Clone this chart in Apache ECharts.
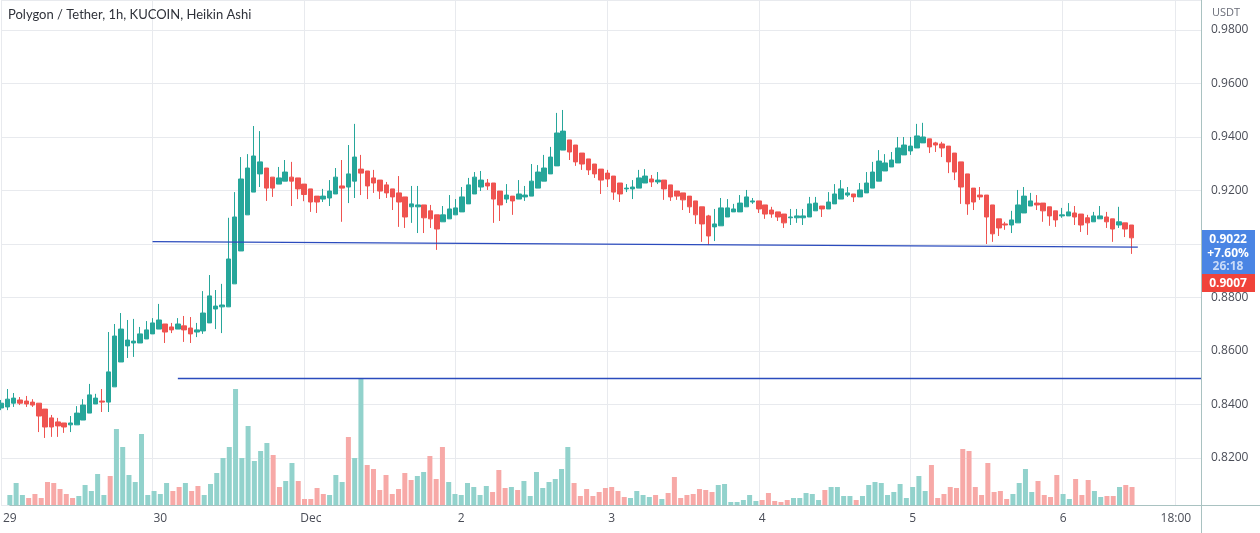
<!DOCTYPE html>
<html>
<head>
<meta charset="utf-8">
<title>Polygon / Tether, 1h, KUCOIN, Heikin Ashi</title>
<script src="https://cdn.jsdelivr.net/npm/echarts@6/dist/echarts.min.js"></script>
<style>
  html, body { margin: 0; padding: 0; background: #fff; }
  #main { width: 1260px; height: 533px; }
</style>
</head>
<body>
<div id="main"></div>
<script>
// hourly Heikin Ashi candles, Nov 29 00:00 -> Dec 6 11:00
var open = [
  0.8387, 0.8391, 0.8405, 0.8417, 0.8413, 0.8409, 0.8405, 0.8383, 0.8350, 0.8335,
  0.8331, 0.8324, 0.8324, 0.8342, 0.8368, 0.8402, 0.8413, 0.8409, 0.8466, 0.8559,
  0.8619, 0.8630, 0.8630, 0.8645, 0.8664, 0.8682, 0.8701, 0.8690, 0.8682, 0.8694,
  0.8686, 0.8671, 0.8675, 0.8705, 0.8757, 0.8765, 0.8765, 0.8851, 0.8974, 0.9109,
  0.9194, 0.9262, 0.9284, 0.9250, 0.9224, 0.9235, 0.9250, 0.9247, 0.9224, 0.9206,
  0.9179, 0.9168, 0.9172, 0.9187, 0.9217, 0.9213, 0.9235, 0.9280, 0.9273, 0.9247,
  0.9239, 0.9221, 0.9206, 0.9191, 0.9176, 0.9139, 0.9139, 0.9146, 0.9124, 0.9109,
  0.9083, 0.9094, 0.9109, 0.9120, 0.9150, 0.9187, 0.9213, 0.9228, 0.9228, 0.9198,
  0.9168, 0.9179, 0.9168, 0.9176, 0.9179, 0.9209, 0.9235, 0.9262, 0.9292, 0.9351,
  0.9389, 0.9370, 0.9340, 0.9318, 0.9299, 0.9280, 0.9265, 0.9254, 0.9228, 0.9206,
  0.9206, 0.9209, 0.9228, 0.9243, 0.9232, 0.9239, 0.9221, 0.9198, 0.9191, 0.9179,
  0.9161, 0.9139, 0.9105, 0.9064, 0.9068, 0.9101, 0.9120, 0.9120, 0.9139, 0.9157,
  0.9161, 0.9146, 0.9127, 0.9120, 0.9112, 0.9098, 0.9098, 0.9098, 0.9101, 0.9124,
  0.9142, 0.9131, 0.9150, 0.9168, 0.9183, 0.9187, 0.9176, 0.9191, 0.9209, 0.9235,
  0.9273, 0.9288, 0.9303, 0.9333, 0.9348, 0.9359, 0.9378, 0.9393, 0.9378, 0.9374,
  0.9366, 0.9340, 0.9307, 0.9262, 0.9209, 0.9183, 0.9183, 0.9146, 0.9094, 0.9075,
  0.9071, 0.9079, 0.9116, 0.9142, 0.9153, 0.9153, 0.9139, 0.9124, 0.9105, 0.9105,
  0.9116, 0.9112, 0.9098, 0.9083, 0.9094, 0.9101, 0.9094, 0.9071, 0.9079, 0.9071
];
var close = [
  0.8405, 0.8420, 0.8424, 0.8405, 0.8402, 0.8398, 0.8357, 0.8316, 0.8316, 0.8320,
  0.8316, 0.8331, 0.8368, 0.8398, 0.8436, 0.8424, 0.8409, 0.8522, 0.8656, 0.8682,
  0.8641, 0.8637, 0.8664, 0.8679, 0.8705, 0.8716, 0.8671, 0.8679, 0.8701, 0.8679,
  0.8664, 0.8679, 0.8742, 0.8806, 0.8768, 0.8772, 0.8944, 0.9101, 0.9243, 0.9284,
  0.9329, 0.9307, 0.9209, 0.9209, 0.9247, 0.9269, 0.9235, 0.9206, 0.9185, 0.9157,
  0.9157, 0.9179, 0.9198, 0.9250, 0.9209, 0.9262, 0.9325, 0.9265, 0.9217, 0.9228,
  0.9198, 0.9191, 0.9176, 0.9157, 0.9101, 0.9150, 0.9146, 0.9098, 0.9094, 0.9056,
  0.9109, 0.9131, 0.9135, 0.9176, 0.9221, 0.9250, 0.9239, 0.9217, 0.9168, 0.9146,
  0.9183, 0.9161, 0.9187, 0.9183, 0.9235, 0.9269, 0.9284, 0.9325, 0.9415, 0.9422,
  0.9344, 0.9307, 0.9299, 0.9277, 0.9262, 0.9239, 0.9243, 0.9194, 0.9187, 0.9209,
  0.9213, 0.9247, 0.9254, 0.9232, 0.9239, 0.9206, 0.9176, 0.9179, 0.9165, 0.9139,
  0.9109, 0.9075, 0.9030, 0.9075, 0.9135, 0.9135, 0.9131, 0.9153, 0.9176, 0.9161,
  0.9131, 0.9112, 0.9112, 0.9101, 0.9079, 0.9101, 0.9105, 0.9105, 0.9150, 0.9153,
  0.9131, 0.9157, 0.9187, 0.9206, 0.9191, 0.9176, 0.9202, 0.9228, 0.9269, 0.9310,
  0.9303, 0.9314, 0.9359, 0.9370, 0.9366, 0.9404, 0.9400, 0.9363, 0.9370, 0.9359,
  0.9307, 0.9269, 0.9213, 0.9150, 0.9157, 0.9176, 0.9101, 0.9038, 0.9060, 0.9071,
  0.9090, 0.9146, 0.9179, 0.9161, 0.9146, 0.9124, 0.9105, 0.9090, 0.9109, 0.9120,
  0.9101, 0.9071, 0.9079, 0.9105, 0.9105, 0.9083, 0.9056, 0.9083, 0.9056, 0.9023
];
var low = [
  0.8379, 0.8379, 0.8391, 0.8398, 0.8391, 0.8391, 0.8297, 0.8275, 0.8279, 0.8279,
  0.8294, 0.8297, 0.8324, 0.8342, 0.8368, 0.8402, 0.8372, 0.8372, 0.8466, 0.8559,
  0.8574, 0.8578, 0.8630, 0.8645, 0.8664, 0.8682, 0.8630, 0.8667, 0.8682, 0.8634,
  0.8630, 0.8652, 0.8664, 0.8705, 0.8682, 0.8667, 0.8765, 0.8851, 0.8974, 0.9109,
  0.9194, 0.9213, 0.9161, 0.9176, 0.9224, 0.9235, 0.9142, 0.9168, 0.9160, 0.9120,
  0.9116, 0.9157, 0.9142, 0.9187, 0.9083, 0.9153, 0.9172, 0.9183, 0.9168, 0.9191,
  0.9168, 0.9172, 0.9127, 0.9064, 0.9060, 0.9079, 0.9041, 0.9041, 0.9060, 0.8978,
  0.9083, 0.9094, 0.9109, 0.9120, 0.9150, 0.9187, 0.9198, 0.9202, 0.9079, 0.9086,
  0.9153, 0.9109, 0.9168, 0.9161, 0.9179, 0.9209, 0.9235, 0.9262, 0.9292, 0.9351,
  0.9314, 0.9292, 0.9277, 0.9258, 0.9247, 0.9187, 0.9213, 0.9165, 0.9157, 0.9194,
  0.9168, 0.9209, 0.9228, 0.9213, 0.9224, 0.9165, 0.9161, 0.9165, 0.9127, 0.9116,
  0.9075, 0.9008, 0.8996, 0.9011, 0.9068, 0.9101, 0.9120, 0.9120, 0.9139, 0.9150,
  0.9116, 0.9094, 0.9098, 0.9086, 0.9060, 0.9071, 0.9079, 0.9071, 0.9101, 0.9124,
  0.9101, 0.9131, 0.9150, 0.9168, 0.9176, 0.9157, 0.9176, 0.9191, 0.9209, 0.9235,
  0.9273, 0.9288, 0.9303, 0.9333, 0.9333, 0.9359, 0.9378, 0.9340, 0.9344, 0.9325,
  0.9265, 0.9239, 0.9150, 0.9109, 0.9127, 0.9165, 0.9000, 0.9008, 0.9030, 0.9053,
  0.9041, 0.9079, 0.9116, 0.9142, 0.9127, 0.9083, 0.9068, 0.9064, 0.9098, 0.9105,
  0.9071, 0.9045, 0.9034, 0.9083, 0.9094, 0.9060, 0.9008, 0.9060, 0.9026, 0.8963
];
var high = [
  0.8417, 0.8458, 0.8443, 0.8428, 0.8432, 0.8420, 0.8405, 0.8383, 0.8361, 0.8350,
  0.8331, 0.8357, 0.8394, 0.8420, 0.8477, 0.8440, 0.8458, 0.8671, 0.8701, 0.8742,
  0.8716, 0.8720, 0.8690, 0.8712, 0.8723, 0.8776, 0.8701, 0.8705, 0.8723, 0.8731,
  0.8727, 0.8705, 0.8824, 0.8884, 0.8828, 0.8851, 0.9098, 0.9194, 0.9325, 0.9336,
  0.9441, 0.9422, 0.9284, 0.9250, 0.9288, 0.9314, 0.9307, 0.9247, 0.9224, 0.9206,
  0.9179, 0.9206, 0.9239, 0.9284, 0.9314, 0.9370, 0.9449, 0.9333, 0.9273, 0.9277,
  0.9239, 0.9232, 0.9206, 0.9254, 0.9176, 0.9217, 0.9217, 0.9146, 0.9146, 0.9109,
  0.9142, 0.9183, 0.9168, 0.9213, 0.9247, 0.9269, 0.9273, 0.9243, 0.9228, 0.9198,
  0.9224, 0.9179, 0.9239, 0.9217, 0.9299, 0.9295, 0.9333, 0.9363, 0.9490, 0.9501,
  0.9389, 0.9370, 0.9340, 0.9318, 0.9299, 0.9280, 0.9277, 0.9254, 0.9228, 0.9224,
  0.9239, 0.9277, 0.9280, 0.9258, 0.9269, 0.9239, 0.9221, 0.9198, 0.9191, 0.9179,
  0.9161, 0.9139, 0.9109, 0.9131, 0.9172, 0.9168, 0.9150, 0.9183, 0.9202, 0.9172,
  0.9161, 0.9146, 0.9139, 0.9120, 0.9112, 0.9131, 0.9131, 0.9131, 0.9176, 0.9176,
  0.9142, 0.9194, 0.9224, 0.9239, 0.9213, 0.9187, 0.9228, 0.9269, 0.9307, 0.9351,
  0.9336, 0.9344, 0.9400, 0.9400, 0.9400, 0.9449, 0.9453, 0.9393, 0.9382, 0.9382,
  0.9366, 0.9340, 0.9307, 0.9262, 0.9209, 0.9213, 0.9183, 0.9146, 0.9094, 0.9083,
  0.9124, 0.9202, 0.9213, 0.9191, 0.9183, 0.9153, 0.9139, 0.9124, 0.9135, 0.9153,
  0.9142, 0.9112, 0.9109, 0.9120, 0.9142, 0.9120, 0.9094, 0.9139, 0.9079, 0.9071
];
// volume (K)
var volume = [
  10, 22, 10, 7, 11, 7, 23, 22, 16, 11,
  7, 9, 20, 14, 31, 10, 29, 76, 58, 30,
  23, 71, 10, 14, 11, 22, 14, 18, 22, 14,
  19, 10, 21, 32, 47, 58, 116, 47, 79, 44,
  54, 62, 50, 18, 24, 42, 24, 6, 6, 17,
  11, 10, 30, 23, 68, 47, 127, 40, 36, 15,
  30, 11, 16, 32, 25, 29, 33, 49, 26, 58,
  23, 11, 10, 22, 18, 10, 19, 13, 35, 17,
  18, 15, 24, 9, 33, 17, 23, 26, 36, 58,
  22, 9, 16, 9, 13, 17, 18, 14, 8, 7,
  14, 10, 8, 10, 6, 12, 28, 7, 10, 11,
  16, 15, 13, 20, 21, 3, 3, 5, 10, 4,
  5, 12, 4, 3, 5, 7, 7, 12, 11, 5,
  15, 18, 18, 9, 9, 5, 9, 20, 23, 22,
  10, 13, 21, 7, 18, 29, 14, 40, 7, 11,
  18, 17, 56, 54, 18, 10, 42, 13, 14, 6,
  11, 22, 36, 13, 24, 10, 8, 30, 11, 6,
  26, 10, 25, 14, 8, 9, 9, 18, 20, 18
];

var days = ['11-29', '11-30', '12-01', '12-02', '12-03', '12-04', '12-05', '12-06'];
var dayLabels = ['29', '30', 'Dec', '2', '3', '4', '5', '6'];
var extraTick = { index: 186, label: '18:00' };
var slotCount = 191;

// drawn trend lines [startIndex, price] -> [endIndex, price]
var trendLines = [
  [[24, 0.9009], [180, 0.8988]],
  [[28, 0.8498], [190, 0.8498]]
];

var lastHA = 0.9022, changePct = '+7.60%', countdown = '26:18', lastPrice = 0.9007;

var UP = '#26a69a', DOWN = '#ef5350';
var UP_VOL = '#92d2cc', DOWN_VOL = '#f7a9a7';
var FONT = 'Open Sans';

var categories = [];
for (var k = 0; k < slotCount; k++) {
  var h = k % 24;
  categories.push('2022-' + days[Math.floor(k / 24)] + ' ' + (h < 10 ? '0' : '') + h + ':00');
}

var candles = open.map(function (o, i) { return [o, close[i], low[i], high[i]]; });
var vols = volume.map(function (v, i) {
  return { value: v, itemStyle: { color: close[i] >= open[i] ? UP_VOL : DOWN_VOL } };
});

function isTick(idx) { return idx % 24 === 0 || idx === extraTick.index; }

var chart = echarts.init(document.getElementById('main'));
var option = {
  animation: false,
  backgroundColor: '#ffffff',
  title: {
    text: 'Polygon / Tether, 1h, KUCOIN, Heikin Ashi',
    left: 8, top: 8, padding: 0,
    textStyle: { fontFamily: 'Lato', fontSize: 13, fontWeight: 'normal', color: '#2f323a' }
  },
  grid: [
    { left: 1, right: 59, top: 0, bottom: 28 },
    { left: 1, right: 59, top: 355, bottom: 28 }
  ],
  xAxis: [
    {
      type: 'category', gridIndex: 0, data: categories, boundaryGap: false,
      axisLine: { show: false }, axisTick: { show: false }, axisLabel: { show: false },
      splitLine: { show: true, interval: isTick, lineStyle: { color: '#e8eaee', width: 1 } }
    },
    {
      type: 'category', gridIndex: 1, data: categories, boundaryGap: false,
      axisLine: { show: true, lineStyle: { color: '#a9c2c1', width: 1 } },
      axisTick: { show: false },
      axisLabel: {
        interval: isTick, margin: 8,
        fontFamily: FONT, fontSize: 12, color: '#4a4d57',
        formatter: function (v, idx) {
          if (idx % 24 === 0) return dayLabels[idx / 24];
          if (idx === extraTick.index) return extraTick.label;
          return '';
        }
      },
      splitLine: { show: false }
    }
  ],
  yAxis: [
    {
      type: 'value', gridIndex: 0, position: 'right',
      min: 0.80244, max: 0.99121, splitNumber: 9,
      axisLine: { show: true, lineStyle: { color: '#a9c2c1', width: 1 } },
      axisTick: { show: false },
      axisLabel: {
        margin: 10, fontFamily: FONT, fontSize: 12, color: '#4a4d57',
        formatter: function (v) {
          var r = Math.round(v * 50);
          return Math.abs(v * 50 - r) < 1e-6 ? v.toFixed(4) : '';
        }
      },
      splitLine: { show: true, lineStyle: { color: '#e8eaee', width: 1 } }
    },
    {
      type: 'value', gridIndex: 1, min: 0, max: 150,
      axisLine: { show: false }, axisTick: { show: false }, axisLabel: { show: false },
      splitLine: { show: false }
    }
  ],
  series: [
    {
      type: 'bar', name: 'Volume', xAxisIndex: 1, yAxisIndex: 1,
      data: vols, barWidth: 5, silent: true
    },
    {
      type: 'candlestick', name: 'MATICUSDT', xAxisIndex: 0, yAxisIndex: 0,
      data: candles, barWidth: 5,
      itemStyle: { color: UP, color0: DOWN, borderColor: UP, borderColor0: DOWN, borderWidth: 1 },
      markLine: {
        silent: true, symbol: ['none', 'none'], animation: false,
        label: { show: false },
        lineStyle: { color: '#2b4bbd', width: 1.3, type: 'solid' },
        data: trendLines.map(function (t) {
          return [{ coord: [categories[t[0][0]], t[0][1]] }, { coord: [categories[t[1][0]], t[1][1]] }];
        })
      }
    }
  ]
};
chart.setOption(option);

// price scale badges + axis corner (drawn above the axis labels)
var yHA = chart.convertToPixel({ yAxisIndex: 0 }, lastHA);
var boxTop = yHA - 8;
var badgeFont = 'bold 12px "' + FONT + '"';
chart.setOption({
  graphic: [
    { type: 'text', left: 1212, top: 7, z: 100, style: { text: 'USDT', font: '11px "' + FONT + '"', fill: '#6a6d78' } },
    { type: 'line', z: 100, shape: { x1: 1201, y1: 505.5, x2: 1260, y2: 505.5 }, style: { stroke: '#a9c2c1', lineWidth: 1 } },
    { type: 'line', z: 100, shape: { x1: 1201.5, y1: 505, x2: 1201.5, y2: 533 }, style: { stroke: '#a9c2c1', lineWidth: 1 } },
    { type: 'rect', z: 100, shape: { x: 1202, y: boxTop, width: 53, height: 44 }, style: { fill: '#4a85e4' } },
    { type: 'text', z: 101, x: 1228, y: boxTop + 9, style: { text: lastHA.toFixed(4), font: badgeFont, fill: '#ffffff', align: 'center', verticalAlign: 'middle' } },
    { type: 'text', z: 101, x: 1228, y: boxTop + 23, style: { text: changePct, font: badgeFont, fill: '#ffffff', align: 'center', verticalAlign: 'middle' } },
    { type: 'text', z: 101, x: 1228, y: boxTop + 36, style: { text: countdown, font: badgeFont, fill: '#c9dbf8', align: 'center', verticalAlign: 'middle' } },
    { type: 'rect', z: 100, shape: { x: 1202, y: boxTop + 44, width: 53, height: 18 }, style: { fill: '#f0433a' } },
    { type: 'text', z: 101, x: 1228, y: boxTop + 53, style: { text: lastPrice.toFixed(4), font: badgeFont, fill: '#ffffff', align: 'center', verticalAlign: 'middle' } }
  ]
});
</script>
</body>
</html>
